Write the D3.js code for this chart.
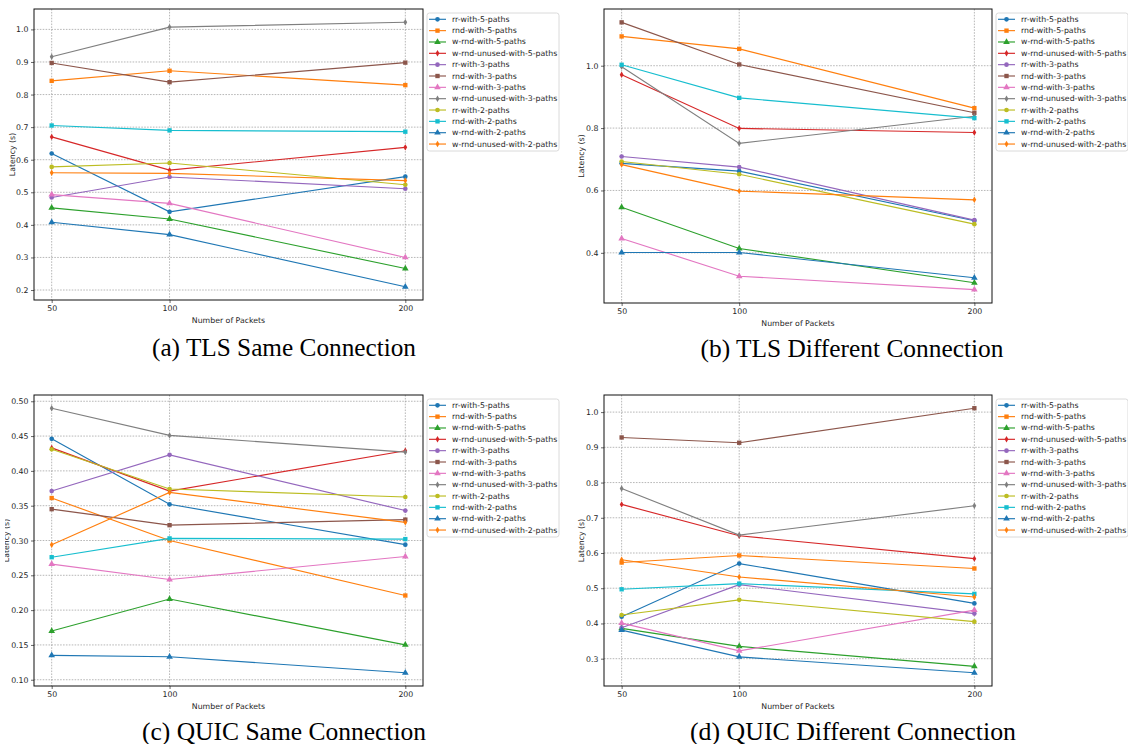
<!DOCTYPE html>
<html>
<head>
<meta charset="utf-8">
<script src="https://cdn.jsdelivr.net/npm/d3@7"></script>
<style>
  body { margin: 0; background: #fff; }
  svg { display: block; font-family: "DejaVu Sans", sans-serif; }
</style>
</head>
<body>
<svg id="fig" width="1128" height="744"></svg>
<script>
// Number of packets sent (x categories, shared by all four panels)
const packets = [50, 100, 200];

// Scheduler configurations, in legend order
const seriesNames = [
  "rr-with-5-paths", "rnd-with-5-paths", "w-rnd-with-5-paths", "w-rnd-unused-with-5-paths",
  "rr-with-3-paths", "rnd-with-3-paths", "w-rnd-with-3-paths", "w-rnd-unused-with-3-paths",
  "rr-with-2-paths", "rnd-with-2-paths", "w-rnd-with-2-paths", "w-rnd-unused-with-2-paths"
];
const seriesColors = [
  "#1f77b4", "#ff7f0e", "#2ca02c", "#d62728",
  "#9467bd", "#8c564b", "#e377c2", "#7f7f7f",
  "#bcbd22", "#17becf", "#1f77b4", "#ff7f0e"
];
const seriesMarkers = [
  "circle", "square", "triangle", "thin",
  "circle", "square", "triangle", "thin",
  "circle", "square", "triangle", "thin"
];

// Latency (s) per series at 50 / 100 / 200 packets
const tlsSame = [
  [0.619, 0.440, 0.548], [0.842, 0.873, 0.829], [0.452, 0.418, 0.266], [0.670, 0.568, 0.638],
  [0.484, 0.547, 0.511], [0.897, 0.838, 0.898], [0.493, 0.466, 0.300], [0.916, 1.007, 1.022],
  [0.578, 0.590, 0.523], [0.705, 0.690, 0.686], [0.408, 0.370, 0.210], [0.560, 0.558, 0.536]
];
const tlsDiff = [
  [0.687, 0.662, 0.503], [1.094, 1.054, 0.864], [0.546, 0.414, 0.304], [0.971, 0.799, 0.786],
  [0.709, 0.675, 0.505], [1.139, 1.004, 0.849], [0.446, 0.325, 0.282], [0.997, 0.751, 0.838],
  [0.693, 0.652, 0.492], [1.003, 0.897, 0.832], [0.401, 0.401, 0.320], [0.683, 0.598, 0.570]
];
const quicSame = [
  [0.446, 0.352, 0.294], [0.361, 0.300, 0.221], [0.170, 0.216, 0.150], [0.433, 0.371, 0.429],
  [0.371, 0.423, 0.343], [0.345, 0.322, 0.330], [0.266, 0.244, 0.277], [0.490, 0.451, 0.427],
  [0.431, 0.374, 0.3625], [0.276, 0.303, 0.302], [0.135, 0.133, 0.110], [0.294, 0.369, 0.326]
];
const quicDiff = [
  [0.419, 0.570, 0.457], [0.573, 0.593, 0.556], [0.386, 0.335, 0.278], [0.738, 0.649, 0.584],
  [0.388, 0.510, 0.428], [0.928, 0.913, 1.011], [0.401, 0.322, 0.438], [0.783, 0.651, 0.734],
  [0.424, 0.467, 0.405], [0.497, 0.513, 0.484], [0.381, 0.305, 0.260], [0.581, 0.532, 0.475]
];

// Y tick values per panel
const tlsSameTicks = [0.2, 0.3, 0.4, 0.5, 0.6, 0.7, 0.8, 0.9, 1.0];
const tlsDiffTicks = [0.4, 0.6, 0.8, 1.0];
const quicSameTicks = [0.10, 0.15, 0.20, 0.25, 0.30, 0.35, 0.40, 0.45, 0.50];
const quicDiffTicks = [0.3, 0.4, 0.5, 0.6, 0.7, 0.8, 0.9, 1.0];

const captions = [
  "(a) TLS Same Connection", "(b) TLS Different Connection",
  "(c) QUIC Same Connection", "(d) QUIC Different Connection"
];
const xLabel = "Number of Packets";
const yLabel = "Latency (s)";

// ---- layout ----
const panels = [
  { data: tlsSame,  ticks: tlsSameTicks,  fmt: ".1f", box: { x0: 34,  x1: 423, y0: 9,   y1: 300 }, ylabX: 12,  cap: { x: 284, y: 356, w: 264 } },
  { data: tlsDiff,  ticks: tlsDiffTicks,  fmt: ".1f", box: { x0: 604, x1: 992, y0: 9,   y1: 303 }, ylabX: 581, cap: { x: 852, y: 357, w: 303 } },
  { data: quicSame, ticks: quicSameTicks, fmt: ".2f", box: { x0: 34,  x1: 423, y0: 395, y1: 686 }, ylabX: 6,   cap: { x: 284, y: 740, w: 284 }, clipLabel: 5 },
  { data: quicDiff, ticks: quicDiffTicks, fmt: ".1f", box: { x0: 604, x1: 992, y0: 395, y1: 686 }, ylabX: 581, cap: { x: 853, y: 740, w: 326 } }
];

const svg = d3.select("#fig");
const FS = 7.8;
const textColor = "#262626";

function markerPath(kind) {
  if (kind === "circle") return d3.symbol(d3.symbolCircle, 17)();
  if (kind === "square") return d3.symbol(d3.symbolSquare, 19)();
  if (kind === "triangle") return d3.symbol(d3.symbolTriangle, 19)();
  // thin diamond
  return "M0,-3.2L1.9,0L0,3.2L-1.9,0Z";
}

panels.forEach((p, pi) => {
  const b = p.box;
  const all = p.data.flat();
  const [mn, mx] = d3.extent(all);
  const pad = (mx - mn) * 0.05;
  const y = d3.scaleLinear().domain([mn - pad, mx + pad]).range([b.y1, b.y0]);
  const x = d3.scaleLinear().domain([42.5, 207.5]).range([b.x0, b.x1]);

  const g = svg.append("g");

  // grid
  const grid = g.append("g").attr("stroke", "#9a9a9a").attr("stroke-width", 0.7)
    .attr("stroke-dasharray", "1.6,1.3");
  grid.selectAll("line.h").data(p.ticks).join("line")
    .attr("x1", b.x0).attr("x2", b.x1)
    .attr("y1", d => y(d)).attr("y2", d => y(d));
  grid.selectAll("line.v").data(packets).join("line")
    .attr("class", "v")
    .attr("y1", b.y0).attr("y2", b.y1)
    .attr("x1", d => x(d)).attr("x2", d => x(d));

  // axes via d3 axis generators
  const yAxis = d3.axisLeft(y).tickValues(p.ticks).tickFormat(d3.format(p.fmt)).tickSize(3).tickPadding(2.5);
  const xAxis = d3.axisBottom(x).tickValues(packets).tickFormat(d3.format("d")).tickSize(3).tickPadding(2.5);
  const ya = g.append("g").attr("transform", `translate(${b.x0},0)`).call(yAxis);
  const xa = g.append("g").attr("transform", `translate(0,${b.y1})`).call(xAxis);
  [ya, xa].forEach(a => {
    a.select(".domain").remove();
    a.selectAll(".tick line").attr("stroke", textColor).attr("stroke-width", 0.7);
    a.selectAll(".tick text").attr("fill", textColor).attr("font-size", FS)
      .attr("font-family", "DejaVu Sans, sans-serif");
  });

  // series lines + markers
  p.data.forEach((vals, si) => {
    const pts = packets.map((k, i) => [x(k), y(vals[i])]);
    g.append("path")
      .attr("d", d3.line()(pts))
      .attr("fill", "none")
      .attr("stroke", seriesColors[si])
      .attr("stroke-width", 1.15);
    g.selectAll(null).data(pts).join("path")
      .attr("d", markerPath(seriesMarkers[si]))
      .attr("transform", d => `translate(${d[0]},${d[1]})`)
      .attr("fill", seriesColors[si]);
  });

  // frame
  g.append("rect")
    .attr("x", b.x0).attr("y", b.y0)
    .attr("width", b.x1 - b.x0).attr("height", b.y1 - b.y0)
    .attr("fill", "none").attr("stroke", "#111").attr("stroke-width", 1);

  // axis labels
  g.append("text")
    .attr("x", (b.x0 + b.x1) / 2).attr("y", b.y1 + 20)
    .attr("text-anchor", "middle").attr("dominant-baseline", "central")
    .attr("font-size", FS).attr("fill", textColor)
    .text(xLabel);

  // y label sits in an untransformed group so the page-edge clip is in page coordinates
  const ylg = g.append("g");
  ylg.append("text")
    .attr("transform", `translate(${p.ylabX},${(b.y0 + b.y1) / 2}) rotate(-90)`)
    .attr("text-anchor", "middle").attr("dominant-baseline", "central")
    .attr("font-size", FS).attr("fill", textColor)
    .text(yLabel);
  if (p.clipLabel !== undefined) {
    const id = "ylclip" + pi;
    svg.append("clipPath").attr("id", id)
      .append("rect").attr("x", p.clipLabel).attr("y", 0).attr("width", 100).attr("height", 744);
    ylg.attr("clip-path", `url(#${id})`);
  }

  // legend
  const lx = b.x1 + 4, ly = b.y0 + 4;
  const lg = g.append("g");
  lg.append("rect")
    .attr("x", lx).attr("y", ly).attr("width", 132).attr("height", 138)
    .attr("rx", 2.5).attr("fill", "#fff").attr("fill-opacity", 0.85)
    .attr("stroke", "#d0d0d0").attr("stroke-width", 0.8);
  seriesNames.forEach((name, si) => {
    const ry = ly + 6.3 + si * 11.34;
    lg.append("line")
      .attr("x1", lx + 2).attr("x2", lx + 19).attr("y1", ry).attr("y2", ry)
      .attr("stroke", seriesColors[si]).attr("stroke-width", 1.15);
    lg.append("path")
      .attr("d", markerPath(seriesMarkers[si]))
      .attr("transform", `translate(${lx + 10.5},${ry})`)
      .attr("fill", seriesColors[si]);
    lg.append("text")
      .attr("x", lx + 25).attr("y", ry)
      .attr("dominant-baseline", "central")
      .attr("font-size", FS).attr("fill", textColor)
      .text(name);
  });

  // sub-figure caption
  svg.append("text")
    .attr("x", p.cap.x).attr("y", p.cap.y)
    .attr("text-anchor", "middle")
    .attr("font-family", "Liberation Serif, serif")
    .attr("font-size", 25)
    .attr("textLength", p.cap.w).attr("lengthAdjust", "spacingAndGlyphs")
    .attr("fill", "#000")
    .text(captions[pi]);
});
</script>
</body>
</html>
